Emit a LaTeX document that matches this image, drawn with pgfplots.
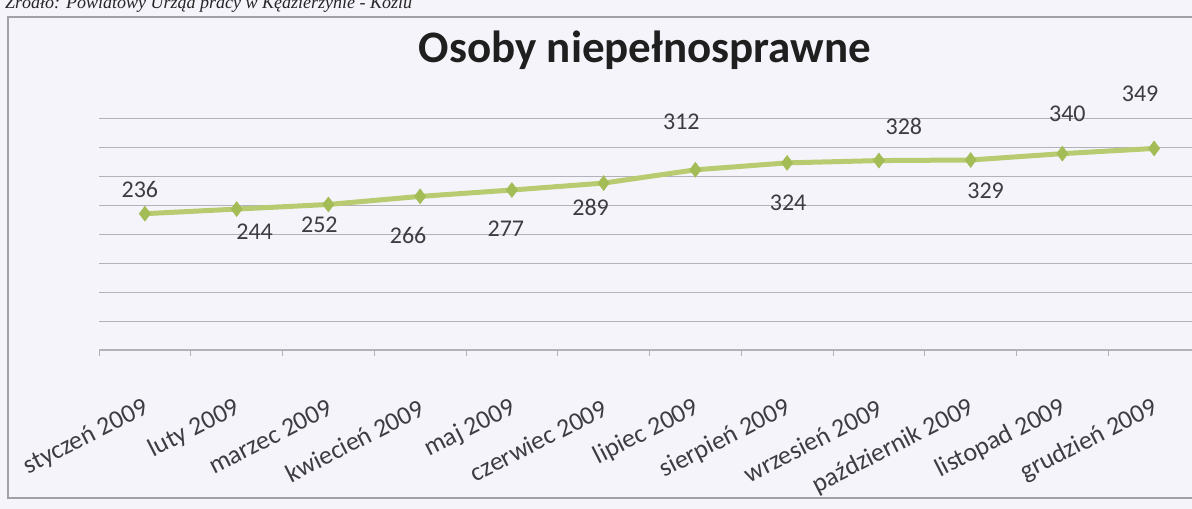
\documentclass[border=0pt]{standalone}
\usepackage{fontspec}
\setmainfont{Carlito}
\newfontfamily\serifit{Liberation Serif}
\usepackage{pgfplots}
\usepackage{pgfplotstable}
\pgfplotsset{compat=1.18}

\definecolor{bg}{HTML}{F4F4FA}
\definecolor{gridc}{HTML}{B2B2BA}
\definecolor{ln}{HTML}{B8CB70}
\definecolor{mk}{HTML}{A4BC56}
\definecolor{txt}{HTML}{3C3C42}
\definecolor{frame}{HTML}{A0A0A6}

\pgfplotstableread{
x y dx dy
0 236 -5 24
1 244 18 -23
2 252 -9 -20
3 266 -12 -39
4 277 -6 -39
5 289 -13 -24
6 312 -14 48
7 324 1 -40
8 328 25 34
9 329 15 -31
10 340 5 40
11 349 -14 55
}\data

\begin{document}
\begin{tikzpicture}[x=1bp,y=1bp]
\useasboundingbox (0,0) rectangle (1192,509);
\fill[bg] (0,0) rectangle (1192,509);
\draw[frame, line width=1.3bp] (8,11) rectangle (1215,492);
\node[anchor=base west, font=\serifit\itshape\fontsize{18bp}{20bp}\selectfont, text=black!85, inner sep=0] at (5,500) {Źródło: Powiatowy Urząd pracy w Kędzierzynie - Koźlu};
\node[anchor=base, font=\bfseries\fontsize{45bp}{48bp}\selectfont, text=black!88, inner sep=0] at (645,446) {Osoby niepełnosprawne};
\begin{axis}[
  at={(99bp,159bp)}, anchor=south west,
  scale only axis, width=1101bp, height=231bp,
  xmin=-0.5, xmax=11.5, ymin=0, ymax=400,
  ytick={50,100,...,400}, yticklabels={},
  ymajorgrids, grid style={gridc, line width=1bp},
  axis x line*=bottom, axis y line*=left,
  y axis line style={draw=none}, ytick style={draw=none},
  x axis line style={gridc, line width=1.2bp},
  xtick={0,...,11},
  xticklabels={styczeń 2009, luty 2009, marzec 2009, kwiecień 2009, maj 2009, czerwiec 2009, lipiec 2009, sierpień 2009, wrzesień 2009, październik 2009, listopad 2009, grudzień 2009},
  major x tick style={draw=none},
  minor xtick={-0.5,0.5,...,11.5},
  minor tick length=6bp,
  minor x tick style={gridc, line width=1bp},
  xtick align=outside,
  x tick label style={yshift=-52bp, xshift=2bp, rotate=27, anchor=east, font=\fontsize{26bp}{28bp}\selectfont, text=txt, inner sep=0pt},
  /pgf/number format/assume math mode=true,
  clip=false,
]
\addplot[ln, line width=5bp, mark=diamond*, mark size=7.5bp, mark options={fill=mk, draw=mk, line width=0.5bp},
  visualization depends on={\thisrow{dx}\as\dx},
  visualization depends on={\thisrow{dy}\as\dy},
  nodes near coords,
  nodes near coords style={anchor=center, xshift=\dx bp, yshift=\dy bp, font=\fontsize{24bp}{26bp}\selectfont, text=txt}
] table[x=x, y=y] {\data};
\end{axis}
\end{tikzpicture}
\end{document}
